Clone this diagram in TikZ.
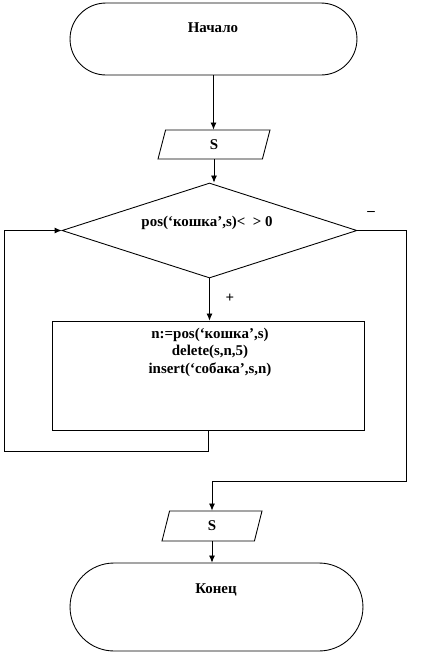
\documentclass[tikz,border=0pt]{standalone}
\usepackage{fontspec}
\setmainfont{Liberation Serif}
\usetikzlibrary{arrows.meta, calc, shapes.geometric, shapes.misc}
\tikzset{every node/.style={font=\fontsize{8.5}{10}\selectfont\bfseries}}

\begin{document}
\begin{tikzpicture}[x=0.02cm, y=-0.02cm, line width=0.5pt,
    >={Latex[length=4pt,width=3.5pt]},
    terminal/.style={draw, rounded rectangle, inner sep=0pt},
    inout/.style={draw, trapezium, trapezium left angle=53,
      trapezium right angle=127, trapezium stretches body, inner sep=0pt},
    decision/.style={draw, diamond, inner sep=0pt},
    process/.style={draw, rectangle, inner sep=0pt}]
  % Fixed frame (pixels of the original)
  \useasboundingbox (0,0) rectangle (429,654);

  % Blocks.
  \node[terminal, minimum width=5.74cm, minimum height=1.44cm] (start) at (213.5,39) {};
  \node (startlbl) at (213,28) {Начало};

  \node[inout, minimum width=2.24cm, minimum height=0.58cm] (in) at (214,144.5) {S};

  \node[decision, minimum width=5.9cm, minimum height=1.9cm] (test) at (209.5,230.5) {};
  \node (testlbl) at (207,223) {pos(‘кошка’,s)<\ \ > 0};

  \node[process, minimum width=6.24cm, minimum height=2.18cm] (body) at (208,375.5) {};
  \node[align=center] (bodylbl) at (210,352)
    {n:=pos(‘кошка’,s)\\delete(s,n,5)\\insert(‘собака’,s,n)};

  \node[inout, minimum width=2.0cm, minimum height=0.6cm] (out) at (212,526) {S};

  \node[terminal, minimum width=5.86cm, minimum height=1.76cm] (stop) at (216.5,607) {};
  \node (stoplbl) at (216,590) {Конец};

  % Branch labels.
  \node (minus) at (371,213) {–};
  \node (plus) at (230,298) {+};

  % Flow.
  \draw[->] (start.south) -- (start.south |- in.north);
  \draw[->] (in.south) -- (in.south |- test.north);
  \draw[->] (test.south) -- (test.south |- body.north);
  \draw[->] (body.south) -- ++(0,21) -| ($(test.west)+(-57,0)$) -- (test.west);
  \draw[->] (test.east) -- ++(49,0) |- ($(out.north)+(0,-29)$) -- (out.north);
  \draw[->] (out.south) -- (out.south |- stop.north);
\end{tikzpicture}
\end{document}
